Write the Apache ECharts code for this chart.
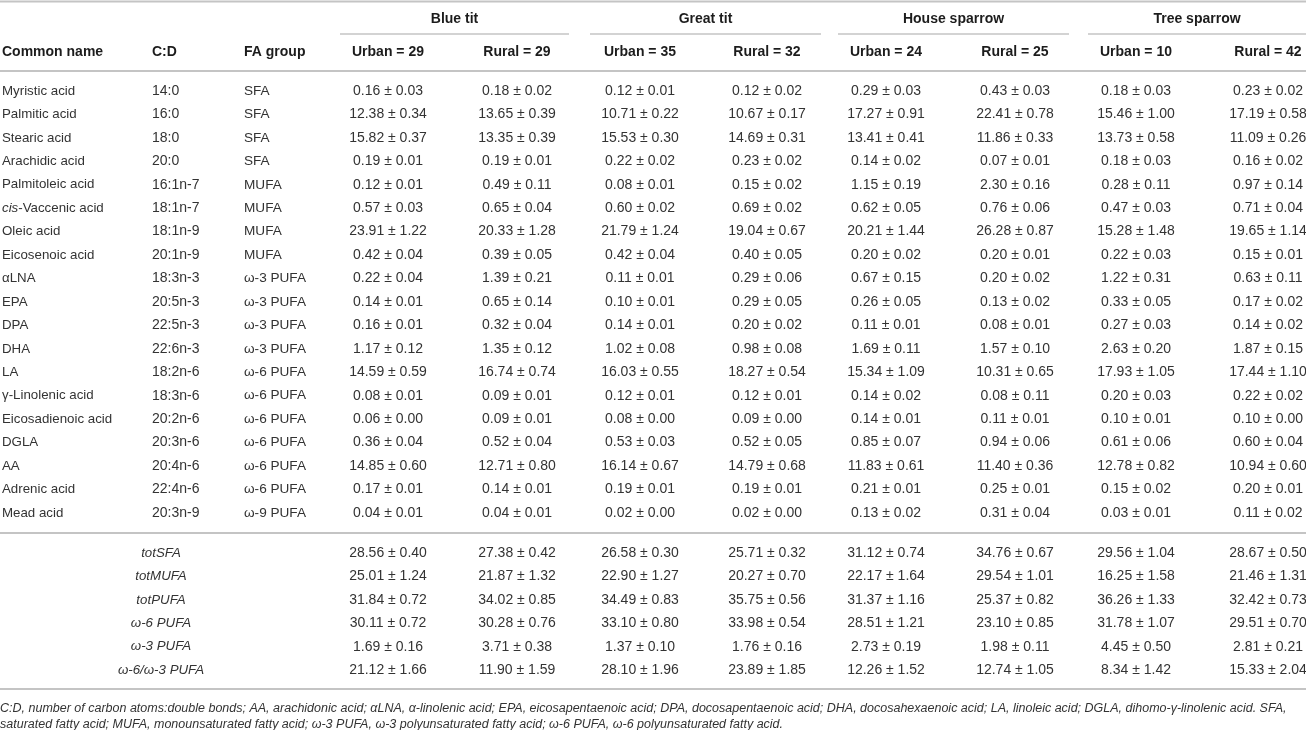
<!DOCTYPE html>
<html>
<head>
<meta charset="utf-8">
<script src="https://cdn.jsdelivr.net/npm/echarts@6/dist/echarts.min.js"></script>
<style>
  html, body { margin: 0; padding: 0; background: #fff; }
  #chart { width: 1306px; height: 730px; }
</style>
</head>
<body>
<div id="chart"></div>
<script>
// ---- table data ----
const commonNames = ['Myristic acid', 'Palmitic acid', 'Stearic acid', 'Arachidic acid', 'Palmitoleic acid',
  'cis-Vaccenic acid', 'Oleic acid', 'Eicosenoic acid', 'αLNA', 'EPA', 'DPA', 'DHA', 'LA',
  'γ-Linolenic acid', 'Eicosadienoic acid', 'DGLA', 'AA', 'Adrenic acid', 'Mead acid'];
const carbonBonds = ['14:0', '16:0', '18:0', '20:0', '16:1n-7', '18:1n-7', '18:1n-9', '20:1n-9', '18:3n-3',
  '20:5n-3', '22:5n-3', '22:6n-3', '18:2n-6', '18:3n-6', '20:2n-6', '20:3n-6', '20:4n-6', '22:4n-6', '20:3n-9'];
const faGroups = ['SFA', 'SFA', 'SFA', 'SFA', 'MUFA', 'MUFA', 'MUFA', 'MUFA', 'ω-3 PUFA', 'ω-3 PUFA',
  'ω-3 PUFA', 'ω-3 PUFA', 'ω-6 PUFA', 'ω-6 PUFA', 'ω-6 PUFA', 'ω-6 PUFA', 'ω-6 PUFA', 'ω-6 PUFA', 'ω-9 PUFA'];
const totalLabels = ['totSFA', 'totMUFA', 'totPUFA', 'ω-6 PUFA', 'ω-3 PUFA', 'ω-6/ω-3 PUFA'];

const species = ['Blue tit', 'Great tit', 'House sparrow', 'Tree sparrow'];
const urbanN = [29, 35, 24, 10];
const ruralN = [29, 32, 25, 42];

// [mean, s.e.] : 19 fatty acids, then the 6 totals
const blueTitUrban = [[0.16, 0.03], [12.38, 0.34], [15.82, 0.37], [0.19, 0.01], [0.12, 0.01], [0.57, 0.03],
  [23.91, 1.22], [0.42, 0.04], [0.22, 0.04], [0.14, 0.01], [0.16, 0.01], [1.17, 0.12], [14.59, 0.59],
  [0.08, 0.01], [0.06, 0.00], [0.36, 0.04], [14.85, 0.60], [0.17, 0.01], [0.04, 0.01],
  [28.56, 0.40], [25.01, 1.24], [31.84, 0.72], [30.11, 0.72], [1.69, 0.16], [21.12, 1.66]];
const blueTitRural = [[0.18, 0.02], [13.65, 0.39], [13.35, 0.39], [0.19, 0.01], [0.49, 0.11], [0.65, 0.04],
  [20.33, 1.28], [0.39, 0.05], [1.39, 0.21], [0.65, 0.14], [0.32, 0.04], [1.35, 0.12], [16.74, 0.74],
  [0.09, 0.01], [0.09, 0.01], [0.52, 0.04], [12.71, 0.80], [0.14, 0.01], [0.04, 0.01],
  [27.38, 0.42], [21.87, 1.32], [34.02, 0.85], [30.28, 0.76], [3.71, 0.38], [11.90, 1.59]];
const greatTitUrban = [[0.12, 0.01], [10.71, 0.22], [15.53, 0.30], [0.22, 0.02], [0.08, 0.01], [0.60, 0.02],
  [21.79, 1.24], [0.42, 0.04], [0.11, 0.01], [0.10, 0.01], [0.14, 0.01], [1.02, 0.08], [16.03, 0.55],
  [0.12, 0.01], [0.08, 0.00], [0.53, 0.03], [16.14, 0.67], [0.19, 0.01], [0.02, 0.00],
  [26.58, 0.30], [22.90, 1.27], [34.49, 0.83], [33.10, 0.80], [1.37, 0.10], [28.10, 1.96]];
const greatTitRural = [[0.12, 0.02], [10.67, 0.17], [14.69, 0.31], [0.23, 0.02], [0.15, 0.02], [0.69, 0.02],
  [19.04, 0.67], [0.40, 0.05], [0.29, 0.06], [0.29, 0.05], [0.20, 0.02], [0.98, 0.08], [18.27, 0.54],
  [0.12, 0.01], [0.09, 0.00], [0.52, 0.05], [14.79, 0.68], [0.19, 0.01], [0.02, 0.00],
  [25.71, 0.32], [20.27, 0.70], [35.75, 0.56], [33.98, 0.54], [1.76, 0.16], [23.89, 1.85]];
const houseSparrowUrban = [[0.29, 0.03], [17.27, 0.91], [13.41, 0.41], [0.14, 0.02], [1.15, 0.19], [0.62, 0.05],
  [20.21, 1.44], [0.20, 0.02], [0.67, 0.15], [0.26, 0.05], [0.11, 0.01], [1.69, 0.11], [15.34, 1.09],
  [0.14, 0.02], [0.14, 0.01], [0.85, 0.07], [11.83, 0.61], [0.21, 0.01], [0.13, 0.02],
  [31.12, 0.74], [22.17, 1.64], [31.37, 1.16], [28.51, 1.21], [2.73, 0.19], [12.26, 1.52]];
const houseSparrowRural = [[0.43, 0.03], [22.41, 0.78], [11.86, 0.33], [0.07, 0.01], [2.30, 0.16], [0.76, 0.06],
  [26.28, 0.87], [0.20, 0.01], [0.20, 0.02], [0.13, 0.02], [0.08, 0.01], [1.57, 0.10], [10.31, 0.65],
  [0.08, 0.11], [0.11, 0.01], [0.94, 0.06], [11.40, 0.36], [0.25, 0.01], [0.31, 0.04],
  [34.76, 0.67], [29.54, 1.01], [25.37, 0.82], [23.10, 0.85], [1.98, 0.11], [12.74, 1.05]];
const treeSparrowUrban = [[0.18, 0.03], [15.46, 1.00], [13.73, 0.58], [0.18, 0.03], [0.28, 0.11], [0.47, 0.03],
  [15.28, 1.48], [0.22, 0.03], [1.22, 0.31], [0.33, 0.05], [0.27, 0.03], [2.63, 0.20], [17.93, 1.05],
  [0.20, 0.03], [0.10, 0.01], [0.61, 0.06], [12.78, 0.82], [0.15, 0.02], [0.03, 0.01],
  [29.56, 1.04], [16.25, 1.58], [36.26, 1.33], [31.78, 1.07], [4.45, 0.50], [8.34, 1.42]];
const treeSparrowRural = [[0.23, 0.02], [17.19, 0.58], [11.09, 0.26], [0.16, 0.02], [0.97, 0.14], [0.71, 0.04],
  [19.65, 1.14], [0.15, 0.01], [0.63, 0.11], [0.17, 0.02], [0.14, 0.02], [1.87, 0.15], [17.44, 1.10],
  [0.22, 0.02], [0.10, 0.00], [0.60, 0.04], [10.94, 0.60], [0.20, 0.01], [0.11, 0.02],
  [28.67, 0.50], [21.46, 1.31], [32.42, 0.73], [29.51, 0.70], [2.81, 0.21], [15.33, 2.04]];

const footnote1 = 'C:D, number of carbon atoms:double bonds; AA, arachidonic acid; αLNA, α-linolenic acid; EPA, eicosapentaenoic acid; DPA, docosapentaenoic acid; DHA, docosahexaenoic acid; LA, linoleic acid; DGLA, dihomo-γ-linolenic acid. SFA,';
const footnote2 = 'saturated fatty acid; MUFA, monounsaturated fatty acid; ω-3 PUFA, ω-3 polyunsaturated fatty acid; ω-6 PUFA, ω-6 polyunsaturated fatty acid.';

const valueColumns = [blueTitUrban, blueTitRural, greatTitUrban, greatTitRural,
  houseSparrowUrban, houseSparrowRural, treeSparrowUrban, treeSparrowRural];

// ---- layout (pixels / row units) ----
const FONT = '"Liberation Sans", Arial, Helvetica, sans-serif';
const TEXT = '#333';
const HEAD = '#1c1c1c';
const RULE = '#c4c4c4';
const ROW_TOP = 91, ROW_STEP = 23.44;
const TOTALS_START = 19.71;            // first total row, in row units
const ROW_MAX = TOTALS_START + 5;
const colName = 2, colCD = 152, colGroup = 244, colTotals = 161;
const valueX = [388, 517, 640, 767, 886, 1015, 1136, 1268];
const groupSpans = [[340, 569], [590, 821], [838, 1069], [1088, 1306]];

const rowPos = commonNames.map((_, i) => i).concat(totalLabels.map((_, j) => TOTALS_START + j));
const rows = rowPos.map((p, i) => [i, p]);

const fmt = v => v[0].toFixed(2) + ' \u00b1 ' + v[1].toFixed(2);

function txt(x, y, text, opt) {
  return {
    type: 'text',
    style: Object.assign({
      x: x, y: y, text: text,
      fontFamily: FONT, fontSize: 14, fill: TEXT,
      align: 'left', verticalAlign: 'middle'
    }, opt || {})
  };
}

function renderRow(params, api) {
  const i = api.value(0);
  const p = api.value(1);
  const y = api.coord([0, p])[1];
  const X = v => api.coord([v, p])[0];
  const children = [];
  if (i < commonNames.length) {
    let name = commonNames[i];
    const rich = { it: { fontStyle: 'italic', fontFamily: FONT, fontSize: 13.3, fill: TEXT } };
    if (name.indexOf('cis-') === 0) name = '{it|cis}' + name.slice(3);
    children.push(txt(X(colName), y, name, { rich: rich, fontSize: 13.3 }));
    children.push(txt(X(colCD), y, carbonBonds[i]));
    children.push(txt(X(colGroup), y, faGroups[i], { fontSize: 13.6 }));
  } else {
    children.push(txt(X(colTotals), y, totalLabels[i - commonNames.length],
      { align: 'center', fontStyle: 'italic', fontSize: 13.3 }));
  }
  valueColumns.forEach((col, c) => {
    children.push(txt(X(valueX[c]), y, fmt(col[i]), { align: 'center' }));
  });
  return { type: 'group', children: children };
}

// header + rules drawn with graphic elements
const graphics = [];
function rule(x1, x2, y, w) {
  graphics.push({ type: 'line', shape: { x1: x1, y1: y, x2: x2, y2: y },
    style: { stroke: RULE, lineWidth: w || 1.6 }, silent: true });
}
function label(x, y, text, opt) {
  graphics.push({ type: 'text', x: x, y: y, style: Object.assign({
    text: text, fontFamily: FONT, fontSize: 14, fontWeight: 'bold', fill: HEAD,
    align: 'left', verticalAlign: 'middle' }, opt || {}) });
}
rule(0, 1306, 1.5, 2);
species.forEach((s, k) => {
  const sp = groupSpans[k];
  label((sp[0] + sp[1]) / 2, 19, s, { align: 'center' });
  rule(sp[0], sp[1], 34);
  label(valueX[2 * k], 52, 'Urban = ' + urbanN[k], { align: 'center' });
  label(valueX[2 * k + 1], 52, 'Rural = ' + ruralN[k], { align: 'center' });
});
label(colName, 52, 'Common name');
label(colCD, 52, 'C:D');
label(colGroup, 52, 'FA group');
rule(0, 1306, 71, 2);
rule(0, 1306, 533, 2);
rule(0, 1306, 689, 2);
const footStyle = { fontWeight: 'normal', fontStyle: 'italic', fontSize: 12.5, fill: TEXT };
label(0, 709, footnote1, footStyle);
label(0, 725, footnote2, footStyle);

const chart = echarts.init(document.getElementById('chart'), null, { renderer: 'canvas' });
chart.setOption({
  animation: false,
  backgroundColor: '#fff',
  grid: { left: 0, right: 0, top: ROW_TOP, height: ROW_MAX * ROW_STEP },
  xAxis: { type: 'value', min: 0, max: 1306, show: false },
  yAxis: { type: 'value', min: 0, max: ROW_MAX, inverse: true, show: false },
  series: [{
    type: 'custom',
    renderItem: renderRow,
    clip: false,
    encode: { x: 0, y: 1 },
    data: rows
  }],
  graphic: graphics
});
</script>
</body>
</html>
